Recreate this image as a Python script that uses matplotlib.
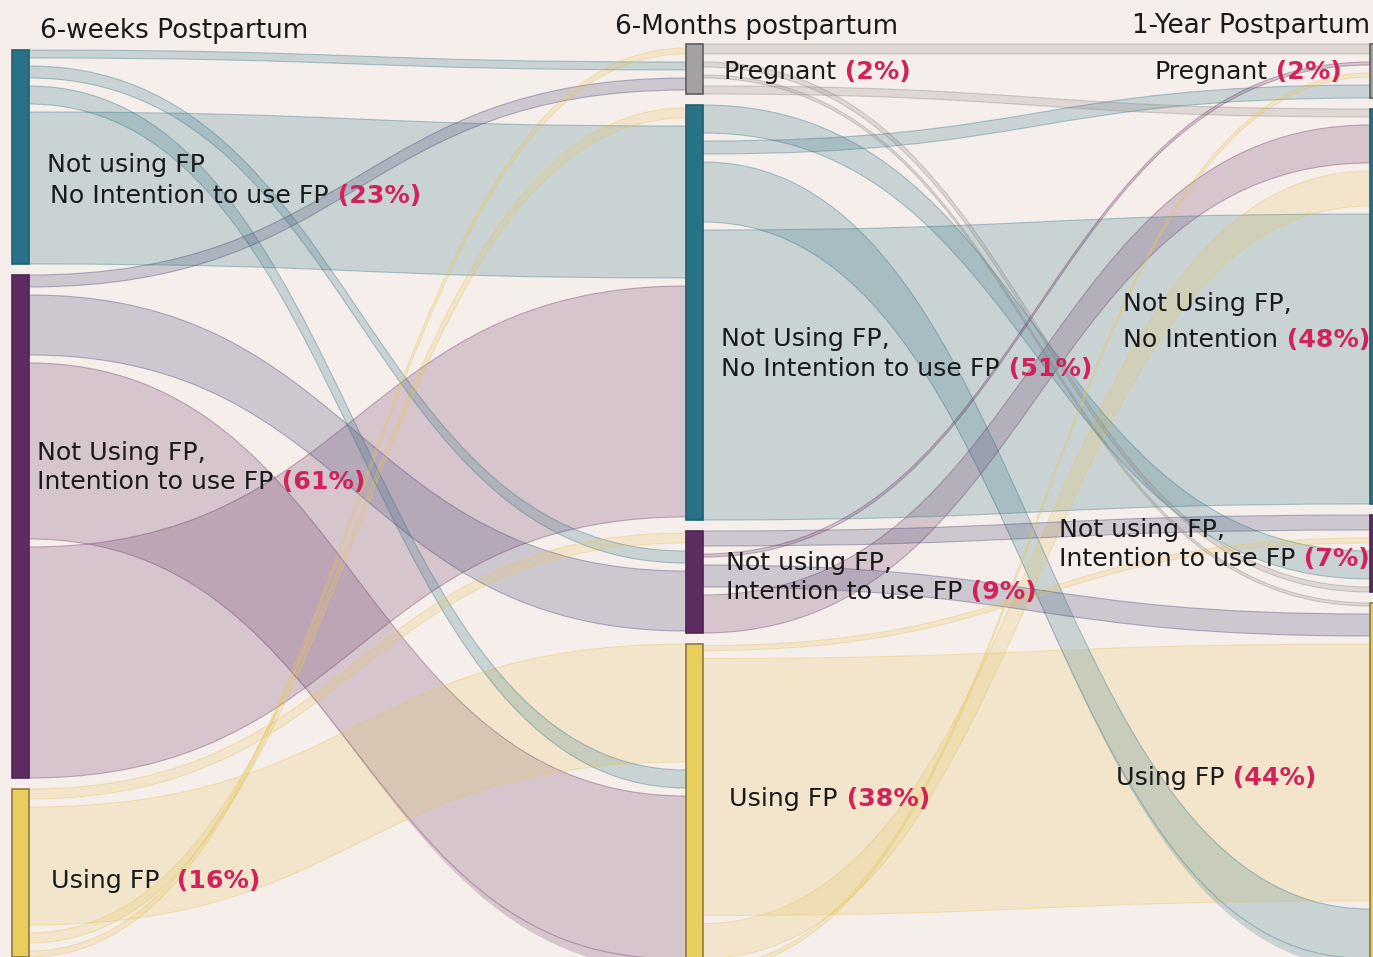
import matplotlib
matplotlib.use("Agg")
import matplotlib.pyplot as plt
from matplotlib.path import Path
from matplotlib.patches import PathPatch, Rectangle

# node keys: P = pregnant, NI = not using / no intention,
# I = not using / intention, U = using FP
col_nodes = [["NI", "I", "U"], ["P", "NI", "I", "U"], ["P", "NI", "I", "U"]]

# 6 weeks -> 6 months (rows = col_nodes[0], cols = col_nodes[1])
flow_6w_6m = [
    [8, 152, 12, 18],
    [12, 231, 60, 176],
    [6, 10, 10, 118],
]
# 6 months -> 1 year (rows = col_nodes[1], cols = col_nodes[2])
flow_6m_1y = [
    [10, 8, 5, 3],
    [13, 290, 28, 60],
    [3, 38, 15, 22],
    [4, 35, 5, 257],
]

# ribbon stacking order on each side of a node, top to bottom
out_order = [
    {"NI": ["P", "I", "U", "NI"], "I": ["P", "I", "U", "NI"], "U": ["I", "U", "NI", "P"]},
    {"P": ["P", "I", "U", "NI"], "NI": ["I", "P", "U", "NI"],
     "I": ["I", "P", "U", "NI"], "U": ["I", "U", "NI", "P"]},
]
in_order = [
    {"P": ["U", "NI", "I"], "NI": ["U", "NI", "I"], "I": ["U", "NI", "I"], "U": ["U", "NI", "I"]},
    {"P": ["P", "I", "U", "NI"], "NI": ["P", "I", "U", "NI"],
     "I": ["I", "U", "NI", "P"], "U": ["P", "I", "U", "NI"]},
]

col_titles = ["6-weeks Postpartum", "6-Months postpartum", "1-Year Postpartum"]

BG = "#f5eeeb"
PINK = "#d2225a"
node_color = {"P": "#a3a2a1", "NI": "#287186", "I": "#5f2c62", "U": "#ebcd5e"}
node_edge = {"P": "#5e5e5e", "NI": "#22606f", "I": "#4f2452", "U": "#8e7b3c"}
link_color = {"P": "#8a8480", "NI": "#2a6f80", "I": "#63305f", "U": "#e8c65a"}
SLATE = "#3b3c6c"
slate_links = [{("I", "P"), ("I", "I")}, {("I", "I"), ("I", "U")}]

GAP = 8
PAD = 11
NODE_W = 17
col_x = [12, 686, 1370]
col_top = [50, 44, 44]

stages = [flow_6w_6m, flow_6m_1y]
F = []
for s, mat in enumerate(stages):
    F.append({(a, b): mat[i][j]
              for i, a in enumerate(col_nodes[s])
              for j, b in enumerate(col_nodes[s + 1])})

# node heights
heights = []
for c, nodes in enumerate(col_nodes):
    h = {}
    for n in nodes:
        sides = []
        if c < 2:
            vals = [v for (a, b), v in F[c].items() if a == n]
            sides.append(sum(vals) + GAP * (len(vals) - 1))
        if c > 0:
            vals = [v for (a, b), v in F[c - 1].items() if b == n]
            sides.append(sum(vals) + GAP * (len(vals) - 1))
        h[n] = max(sides)
    heights.append(h)

node_y = []
for c, nodes in enumerate(col_nodes):
    y = col_top[c]
    pos = {}
    for n in nodes:
        pos[n] = y
        y += heights[c][n] + PAD
    node_y.append(pos)


def stack(c, n, order, values):
    total = sum(values[k] for k in order) + GAP * (len(order) - 1)
    y = node_y[c][n] + (heights[c][n] - total) / 2
    res = {}
    for k in order:
        res[k] = y
        y += values[k] + GAP
    return res


def ribbon(x0, y0, x1, y1, w):
    xm = (x0 + x1) / 2
    verts = [(x0, y0), (xm, y0), (xm, y1), (x1, y1),
             (x1, y1 + w), (xm, y1 + w), (xm, y0 + w), (x0, y0 + w), (x0, y0)]
    codes = [Path.MOVETO, Path.CURVE4, Path.CURVE4, Path.CURVE4,
             Path.LINETO, Path.CURVE4, Path.CURVE4, Path.CURVE4, Path.CLOSEPOLY]
    return Path(verts, codes)


fig = plt.figure(figsize=(13.73, 9.57), dpi=100, facecolor=BG)
ax = fig.add_axes([0, 0, 1, 1])
ax.set_facecolor(BG)
ax.set_xlim(0, 1373)
ax.set_ylim(957, 0)
ax.axis("off")

for s in range(2):
    src_pos = {n: stack(s, n, out_order[s][n], {t: F[s][(n, t)] for t in out_order[s][n]})
               for n in col_nodes[s]}
    tgt_pos = {m: stack(s + 1, m, in_order[s][m], {a: F[s][(a, m)] for a in in_order[s][m]})
               for m in col_nodes[s + 1]}
    # draw the widest ribbons first
    for (a, b), v in sorted(F[s].items(), key=lambda kv: -kv[1]):
        col = SLATE if (a, b) in slate_links[s] else link_color[a]
        p = ribbon(col_x[s] + NODE_W, src_pos[a][b], col_x[s + 1], tgt_pos[b][a], v)
        ax.add_patch(PathPatch(p, facecolor=col, alpha=0.21, edgecolor="none", zorder=1))
        ax.add_patch(PathPatch(p, facecolor="none", edgecolor=col, alpha=0.35, lw=0.8, zorder=2))

for c, nodes in enumerate(col_nodes):
    for n in nodes:
        ax.add_patch(Rectangle((col_x[c], node_y[c][n]), NODE_W, heights[c][n],
                               facecolor=node_color[n], edgecolor=node_edge[n],
                               lw=1.2, zorder=3))

FS = 18.2
FS_TITLE = 18.9
FONT = "DejaVu Sans"
renderer = fig.canvas.get_renderer()


def rich(x, y, parts, ha="left", size=FS):
    items = []
    total = 0
    for txt, hl in parts:
        t = ax.text(0, y, txt, fontsize=size, family=FONT, va="baseline",
                    color=PINK if hl else "#1a1a1a",
                    fontweight="bold" if hl else "normal", zorder=5)
        w = t.get_window_extent(renderer).width
        items.append((t, w))
        total += w
    x0 = x - total if ha == "right" else x
    for t, w in items:
        t.set_x(x0)
        x0 += w


rich(40, 38, [(col_titles[0], False)], size=FS_TITLE)
rich(615, 34, [(col_titles[1], False)], size=FS_TITLE)
rich(1370, 33, [(col_titles[2], False)], ha="right", size=FS_TITLE)

rich(47, 172, [("Not using FP", False)])
rich(50, 203, [("No Intention to use FP", False), (" (23%)", True)])
rich(37, 460, [("Not Using FP,", False)])
rich(37, 489, [("Intention to use FP", False), (" (61%)", True)])
rich(51, 888, [("Using FP ", False), (" (16%)", True)])

rich(723, 79, [("Pregnant", False), (" (2%)", True)])
rich(721, 346, [("Not Using FP,", False)])
rich(721, 376, [("No Intention to use FP", False), (" (51%)", True)])
rich(726, 570, [("Not using FP,", False)])
rich(726, 599, [("Intention to use FP", False), (" (9%)", True)])
rich(729, 806, [("Using FP", False), (" (38%)", True)])

rich(1342, 79, [("Pregnant", False), (" (2%)", True)], ha="right")
rich(1123, 311, [("Not Using FP,", False)])
rich(1123, 347, [("No Intention", False), (" (48%)", True)])
rich(1059, 537, [("Not using FP,", False)])
rich(1059, 566, [("Intention to use FP", False), (" (7%)", True)])
rich(1116, 785, [("Using FP", False), (" (44%)", True)])

fig.savefig("out.png", dpi=100, facecolor=BG)
